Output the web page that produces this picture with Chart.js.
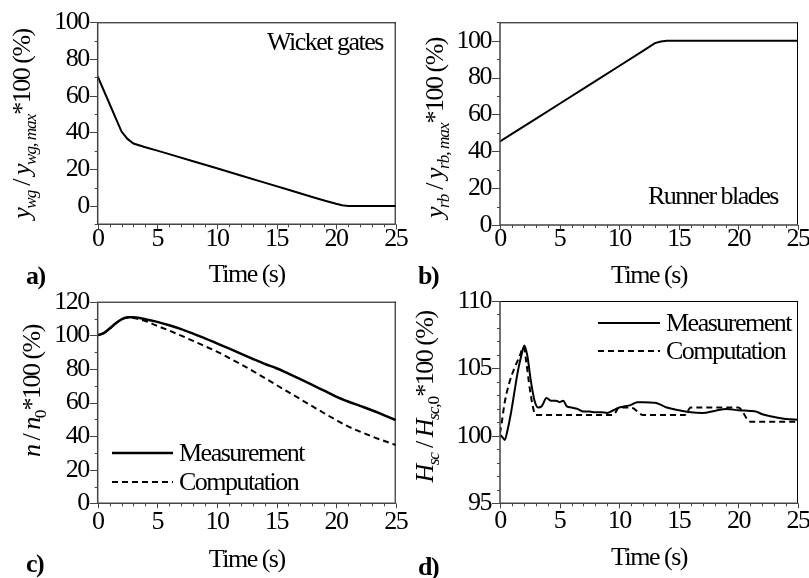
<!doctype html>
<html>
<head>
<title>Transient - wicket gates, runner blades, speed, head</title>
<script src="https://cdn.jsdelivr.net/npm/chart.js@4.4.0/dist/chart.umd.min.js"></script>
<style>
	body { margin: 0; background: #fff; }
	#wrap { position: relative; width: 809px; height: 578px; }
	canvas { position: absolute; left: 0; top: 0; }
</style>
</head>
<body>
<div id="wrap">
	<canvas id="ca" width="809" height="578"></canvas>
	<canvas id="cb" width="809" height="578"></canvas>
	<canvas id="cc" width="809" height="578"></canvas>
	<canvas id="cd" width="809" height="578"></canvas>
</div>
<script>
// tick labels
var xTicks = [0, 5, 10, 15, 20, 25];
var yTicksA = [0, 20, 40, 60, 80, 100];
var yTicksB = [0, 20, 40, 60, 80, 100];
var yTicksC = [0, 20, 40, 60, 80, 100, 120];
var yTicksD = [95, 100, 105, 110];

// a) wicket gates opening
var timeA = [0, 0.5, 1, 1.5, 2, 2.5, 3, 4, 5, 6, 8, 10, 12, 14, 16, 18, 19, 20, 20.5, 21, 25];
var gatesA = [70.5, 63, 55.5, 48, 40.5, 36.5, 34, 32, 30.1, 28.2, 24.3, 20.5, 16.6, 12.7, 8.8, 4.9, 3, 1.2, 0.4, 0, 0];

// b) runner blades opening
var timeB = [0, 1, 3, 5, 8, 10, 12, 13, 13.5, 14, 25];
var bladesB = [45.3, 49.4, 57.6, 65.8, 78.1, 86.3, 94.5, 98.7, 99.6, 100, 100];

// c) rotational speed
var timeC = [0, 0.5, 1, 1.5, 2, 2.5, 3, 3.5, 4, 5, 6, 7, 8, 9, 10, 11, 12, 13, 14, 15, 16, 17, 18, 19, 20, 21, 22, 23, 24, 25];
var speedMeasC = [100, 101.3, 104, 107, 109.5, 110.8, 110.8, 110.3, 109.5, 108, 106, 103.7, 101, 98.2, 95.2, 92.2, 89.1, 86, 83, 80.4, 77.2, 73.9, 70.5, 67, 63.5, 60.6, 58, 55.4, 52.5, 49.6];
var speedCompC = [100, 101.3, 104, 107, 109.5, 110.5, 110.3, 109.5, 108.5, 105.6, 102.8, 99.8, 96.7, 93.5, 90.3, 86.6, 82.8, 78.8, 74.6, 70.4, 66.2, 62, 57.8, 53.6, 49.6, 45.8, 42.7, 39.8, 37.2, 34.7];

// d) head on the spiral case
var timeMeasD = [0, 0.2, 0.4, 0.6, 0.9, 1.2, 1.5, 1.8, 2.05, 2.3, 2.6, 2.9, 3.2, 3.5, 3.9, 4.3, 4.7, 5, 5.3, 5.6, 6, 6.5, 7, 7.5, 8, 8.5, 9, 9.5, 10, 11, 11.5, 12, 13, 13.5, 14, 15, 16, 17, 18, 19, 20, 21, 21.5, 22, 23, 24, 25];
var headMeasD = [100.1, 99.9, 99.7, 100.3, 101.6, 103.2, 104.8, 106, 106.7, 105.9, 104, 102.6, 102.1, 102.2, 102.8, 102.6, 102.6, 102.5, 102.6, 102.2, 102.1, 102, 101.8, 101.8, 101.75, 101.75, 101.7, 101.9, 102.1, 102.3, 102.5, 102.5, 102.45, 102.3, 102.1, 101.9, 101.75, 101.7, 101.85, 102, 101.9, 101.85, 101.8, 101.6, 101.4, 101.25, 101.2];
var timeCompD = [0, 0.15, 0.4, 0.8, 1.2, 1.6, 2, 2.2, 2.5, 2.8, 3, 9.5, 10, 11, 12, 15.5, 16, 20, 21, 25];
var headCompD = [100.2, 101, 102.5, 104, 105, 105.8, 106.6, 105.5, 103.5, 102, 101.55, 101.55, 102.1, 102.1, 101.55, 101.55, 102.1, 102.1, 101.05, 101.05];

var FONT = '"Liberation Serif", "Times New Roman", serif';
var FS = 26;
var SPACING = '-1.5px';

function drawRich(ctx, parts, x, y, size, align) {
	var seg = parts.map(function(p) {
		var sub = p[1].indexOf('s') >= 0;
		var fs = sub ? size * 0.66 : size;
		var font = (p[1].indexOf('i') >= 0 ? 'italic ' : '') + (p[1].indexOf('b') >= 0 ? 'bold ' : '') + fs + 'px ' + FONT;
		ctx.font = font;
		ctx.letterSpacing = sub ? '-1px' : SPACING;
		return { t: p[0], font: font, ls: ctx.letterSpacing, w: ctx.measureText(p[0]).width, dy: sub ? size * 0.22 : 0 };
	});
	var total = seg.reduce(function(a, s) { return a + s.w; }, 0);
	var cx = align === 'center' ? x - total / 2 : x;
	seg.forEach(function(s) {
		ctx.font = s.font;
		ctx.letterSpacing = s.ls;
		ctx.fillText(s.t, cx, y + s.dy);
		cx += s.w;
	});
	ctx.letterSpacing = SPACING;
}

function panel(id, o) {
	var datasets = o.series.map(function(s) {
		return {
			label: s.label,
			data: s.t.map(function(t, i) { return { x: t, y: s.v[i] }; }),
			borderColor: '#000',
			borderWidth: s.w,
			borderDash: s.dash || [],
			pointRadius: 0,
			tension: s.tension || 0,
			cubicInterpolationMode: s.tension ? 'monotone' : 'default',
			fill: false
		};
	});

	var deco = {
		id: 'deco',
		beforeDraw: function(chart) {
			chart.ctx.letterSpacing = SPACING;
		},
		afterDraw: function(chart) {
			var ctx = chart.ctx, a = chart.chartArea;
			var x = chart.scales.x, y = chart.scales.y;
			ctx.save();
			// frame
			ctx.strokeStyle = '#000';
			ctx.lineWidth = 1;
			ctx.beginPath();
			ctx.moveTo(a.left, a.top + 0.5); ctx.lineTo(a.right, a.top + 0.5);
			ctx.moveTo(a.right - 0.5, a.top); ctx.lineTo(a.right - 0.5, a.bottom);
			ctx.stroke();
			ctx.strokeStyle = '#444';
			ctx.lineWidth = 1.5;
			ctx.beginPath();
			ctx.moveTo(a.left, a.top); ctx.lineTo(a.left, a.bottom); ctx.lineTo(a.right, a.bottom);
			ctx.stroke();
			// ticks
			ctx.lineWidth = 1;
			ctx.beginPath();
			var v, p;
			for (v = x.min; v <= x.max + 1e-9; v += o.xMinor) {
				p = Math.round(x.getPixelForValue(v)) + 0.5;
				var major = o.xTicks.indexOf(v) >= 0;
				ctx.moveTo(p, a.bottom); ctx.lineTo(p, a.bottom + (major ? 5 : 3));
			}
			for (v = y.min; v <= y.max + 1e-9; v += o.yMinor) {
				p = Math.round(y.getPixelForValue(v)) + 0.5;
				var majorY = o.yTicks.indexOf(Math.round(v * 1000) / 1000) >= 0;
				ctx.moveTo(a.left, p); ctx.lineTo(a.left - (majorY ? 8 : 3), p);
			}
			ctx.stroke();

			ctx.fillStyle = '#000';
			ctx.textAlign = 'left';
			ctx.textBaseline = 'alphabetic';
			// y title
			ctx.save();
			ctx.translate(o.yTitle.x, o.yTitle.y);
			ctx.rotate(-Math.PI / 2);
			drawRich(ctx, o.yTitle.parts, 0, 0, FS, 'center');
			ctx.restore();
			// x title
			ctx.letterSpacing = SPACING;
			ctx.textBaseline = 'middle';
			ctx.textAlign = 'center';
			ctx.font = FS + 'px ' + FONT;
			ctx.fillText('Time (s)', (a.left + a.right) / 2, o.xTitleY);
			// panel letter
			ctx.font = 'bold ' + FS + 'px ' + FONT;
			ctx.textAlign = 'left';
			ctx.fillText(o.letter, o.letterPos[0], o.letterPos[1]);
			// note inside the plot
			if (o.note) {
				ctx.font = FS + 'px ' + FONT;
				ctx.textAlign = 'left';
				ctx.fillText(o.note.text, o.note.x, o.note.y);
			}
			// legend
			if (o.legend) {
				ctx.font = FS + 'px ' + FONT;
				ctx.textAlign = 'left';
				chart.data.datasets.forEach(function(ds, i) {
					var ly = o.legend.y + i * o.legend.gap;
					ctx.save();
					ctx.strokeStyle = '#000';
					ctx.lineWidth = ds.borderWidth;
					ctx.setLineDash(ds.borderDash);
					ctx.beginPath();
					ctx.moveTo(o.legend.x, ly);
					ctx.lineTo(o.legend.x + o.legend.len, ly);
					ctx.stroke();
					ctx.restore();
					ctx.fillText(ds.label, o.legend.x + o.legend.len + 6, ly + 1);
				});
			}
			ctx.restore();
		}
	};

	var yw = 60, xh = 40;
	return new Chart(document.getElementById(id), {
		type: 'line',
		data: { datasets: datasets },
		options: {
			responsive: false,
			animation: false,
			events: [],
			layout: {
				padding: {
					left: o.area.left - yw,
					right: 809 - o.area.right,
					top: o.area.top,
					bottom: 578 - o.area.bottom - xh
				}
			},
			plugins: { legend: { display: false }, tooltip: { enabled: false } },
			scales: {
				x: {
					type: 'linear',
					min: 0, max: 25,
					grid: { display: false, drawTicks: false },
					border: { display: false },
					afterBuildTicks: function(s) { s.ticks = o.xTicks.map(function(v) { return { value: v }; }); },
					afterFit: function(s) { s.height = xh; s.paddingLeft = 0; s.paddingRight = 0; },
					ticks: { autoSkip: false, maxRotation: 0, padding: o.xPad, color: '#000', font: { family: FONT, size: FS } }
				},
				y: {
					type: 'linear',
					min: o.yMin, max: o.yMax,
					grid: { display: false, drawTicks: false },
					border: { display: false },
					afterBuildTicks: function(s) { s.ticks = o.yTicks.map(function(v) { return { value: v }; }); },
					afterFit: function(s) { s.width = yw; s.paddingTop = 0; s.paddingBottom = 0; },
					ticks: { autoSkip: false, padding: 9, color: '#000', font: { family: FONT, size: FS } }
				}
			}
		},
		plugins: [deco]
	});
}

panel('ca', {
	area: { left: 97.7, right: 395.7, top: 22.3, bottom: 224.3 },
	yMin: -10, yMax: 100, yTicks: yTicksA, yMinor: 10, xTicks: xTicks, xMinor: 1, xPad: -1,
	series: [{ label: 'Wicket gates', t: timeA, v: gatesA, w: 2 }],
	yTitle: { x: 30, y: 124, parts: [['y', 'i'], ['wg', 'is'], [' / ', ''], ['y', 'i'], ['wg, max', 'is'], ['*100 (%)', '']] },
	xTitleY: 275, letter: 'a)', letterPos: [26, 277],
	note: { text: 'Wicket gates', x: 267, y: 43 }
});

panel('cb', {
	area: { left: 500, right: 798, top: 22.3, bottom: 225 },
	yMin: 0, yMax: 110, yTicks: yTicksB, yMinor: 10, xTicks: xTicks, xMinor: 1, xPad: -1,
	series: [{ label: 'Runner blades', t: timeB, v: bladesB, w: 2 }],
	yTitle: { x: 443, y: 128, parts: [['y', 'i'], ['rb', 'is'], [' / ', ''], ['y', 'i'], ['rb, max', 'is'], ['*100 (%)', '']] },
	xTitleY: 276, letter: 'b)', letterPos: [418, 277],
	note: { text: 'Runner blades', x: 648, y: 197 }
});

panel('cc', {
	area: { left: 97.7, right: 395.7, top: 301.7, bottom: 503.3 },
	yMin: 0, yMax: 120, yTicks: yTicksC, yMinor: 10, xTicks: xTicks, xMinor: 1, xPad: 3,
	series: [
		{ label: 'Measurement', t: timeC, v: speedMeasC, w: 2.5, tension: 0.4 },
		{ label: 'Computation', t: timeC, v: speedCompC, w: 2, dash: [6, 4], tension: 0.4 }
	],
	yTitle: { x: 40, y: 391, parts: [['n', 'i'], [' / ', ''], ['n', 'i'], ['0', 's'], ['*100 (%)', '']] },
	xTitleY: 560, letter: 'c)', letterPos: [26, 565],
	legend: { x: 112, y: 453, gap: 29, len: 61 }
});

panel('cd', {
	area: { left: 500, right: 798, top: 301, bottom: 503.3 },
	yMin: 95, yMax: 110, yTicks: yTicksD, yMinor: 1, xTicks: xTicks, xMinor: 1, xPad: 2,
	series: [
		{ label: 'Measurement', t: timeMeasD, v: headMeasD, w: 2, tension: 0.4 },
		{ label: 'Computation', t: timeCompD, v: headCompD, w: 2, dash: [6, 4], tension: 0.4 }
	],
	yTitle: { x: 433, y: 397, parts: [['H', 'i'], ['sc', 'is'], [' / ', ''], ['H', 'i'], ['sc,', 'is'], ['0', 's'], ['*100 (%)', '']] },
	xTitleY: 558, letter: 'd)', letterPos: [418, 568],
	legend: { x: 598, y: 323, gap: 28, len: 62 }
});
</script>
</body>
</html>
